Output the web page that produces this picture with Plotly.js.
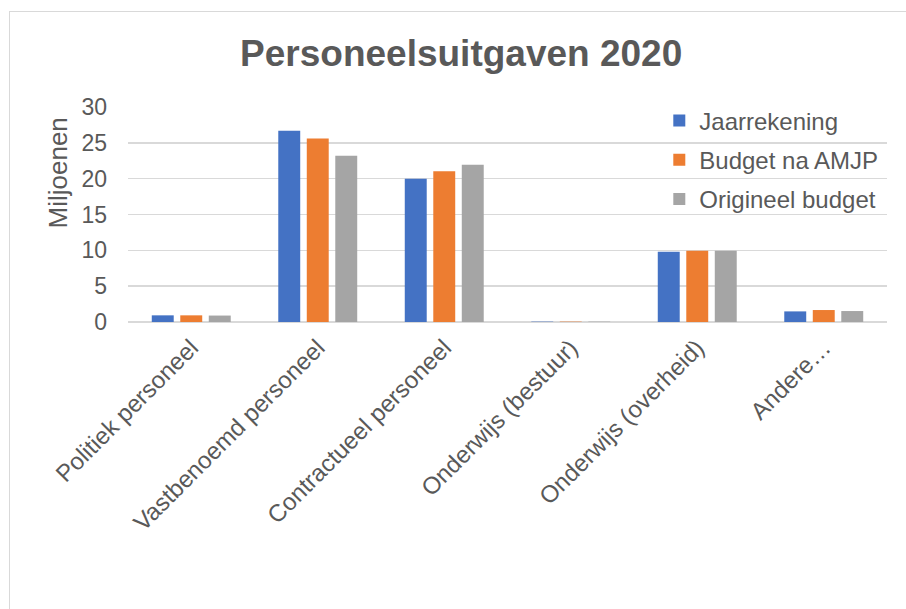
<!DOCTYPE html>
<html>
<head>
<meta charset="utf-8">
<script src="https://cdn.plot.ly/plotly-3.0.1.min.js"></script>
<style>
  html, body { margin: 0; padding: 0; background: #fff; }
  #chart { position: absolute; left: 0; top: 0; width: 906px; height: 609px; }
  #frame { position: absolute; left: 9px; top: 11px; width: 1000px; height: 1000px; border: 1px solid #d9d9d9; pointer-events: none; }
</style>
</head>
<body>
<div id="chart"></div>
<div id="frame"></div>
<script>
const categories = ["Politiek personeel", "Vastbenoemd personeel", "Contractueel personeel", "Onderwijs (bestuur)", "Onderwijs (overheid)", "Andere…"];
const jaarrekening = [0.93, 26.7, 20.0, 0.05, 9.8, 1.48];
const budgetNaAMJP = [0.93, 25.6, 21.05, 0.05, 9.95, 1.67];
const origineelBudget = [0.9, 23.2, 21.95, 0.05, 9.95, 1.53];
const seriesNames = ["Jaarrekening", "Budget na AMJP", "Origineel budget"];
const colors = ["#4472C4", "#ED7D31", "#A5A5A5"];
const yTicks = [0, 5, 10, 15, 20, 25, 30];
const yTitle = "Miljoenen";

const values = [jaarrekening, budgetNaAMJP, origineelBudget];
const traces = values.map((v, i) => ({
  type: "bar",
  name: seriesNames[i],
  x: categories,
  y: v,
  marker: { color: colors[i] },
  legendgroup: "g" + i,
  hoverinfo: "x+y+name"
}));

const layout = {
  width: 906, height: 609,
  margin: { l: 128, r: 19, t: 107, b: 287 },
  paper_bgcolor: "#ffffff",
  plot_bgcolor: "#ffffff",
  font: { family: "Liberation Sans, Arial, sans-serif", color: "#595959", size: 22 },
  title: {
    text: "<b>Personeelsuitgaven 2020</b>",
    font: { size: 37, color: "#595959", family: "Liberation Sans, Arial, sans-serif" },
    x: 0.509, xanchor: "center", xref: "container",
    y: 0.913, yanchor: "middle", yref: "container"
  },
  barmode: "group",
  bargap: 0.324,
  bargroupgap: 0.23,
  xaxis: {
    type: "category",
    tickangle: -45,
    tickfont: { size: 24, color: "#595959" },
    showline: false,
    ticks: "",
    ticklabelstandoff: 6,
    automargin: false
  },
  yaxis: {
    range: [0, 30],
    tickvals: yTicks,
    ticktext: yTicks.map(String),
    tickfont: { size: 23, color: "#595959" },
    gridcolor: "#d9d9d9",
    gridwidth: 1.5,
    zeroline: true,
    zerolinecolor: "#d9d9d9",
    zerolinewidth: 1.5,
    ticklabelstandoff: 20,
    automargin: false
  },
  annotations: [{
    text: yTitle,
    xref: "paper", yref: "paper",
    x: -0.0916, y: 0.693,
    xanchor: "center", yanchor: "middle",
    textangle: -90,
    showarrow: false,
    font: { size: 26, color: "#595959" }
  }],
  legend: {
    x: 0.7, xanchor: "left",
    y: 1.04, yanchor: "top",
    font: { size: 24, color: "#595959" },
    bgcolor: "rgba(255,255,255,0)",
    tracegroupgap: 5,
    itemwidth: 30
  },
  showlegend: true
};

Plotly.newPlot("chart", traces, layout, { displayModeBar: false, staticPlot: true });
</script>
</body>
</html>
